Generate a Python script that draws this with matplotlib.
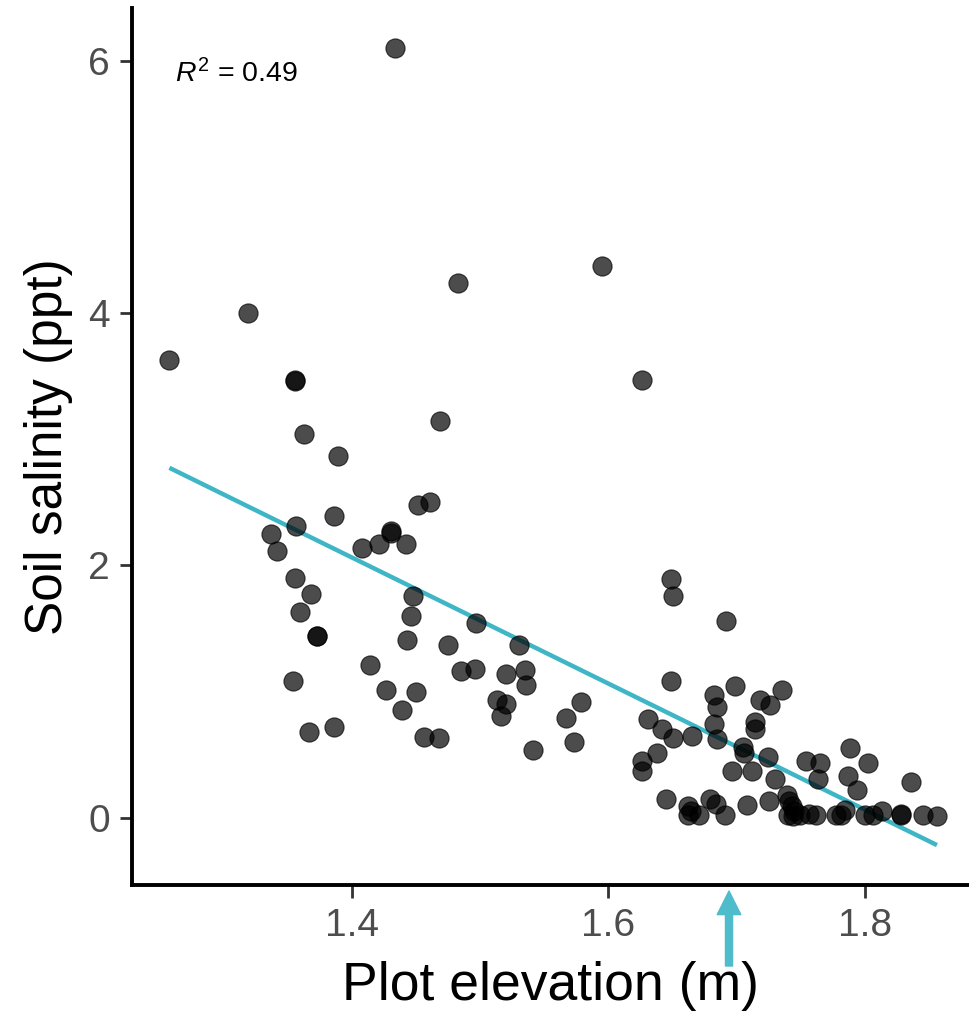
import matplotlib
matplotlib.use("Agg")
import matplotlib.pyplot as plt
import numpy as np

plt.rcParams['font.family'] = ['Liberation Sans', 'DejaVu Sans']
plt.rcParams['mathtext.fontset'] = 'custom'
plt.rcParams['mathtext.rm'] = 'Liberation Sans'
plt.rcParams['mathtext.it'] = 'Liberation Sans:italic'

# plot elevation (m) and soil salinity (ppt)
elevation = [
    1.258, 1.319, 1.434, 1.356, 1.356, 1.363, 1.389, 1.469, 1.452, 1.461,
    1.357, 1.337, 1.342, 1.386, 1.408, 1.421, 1.431, 1.431, 1.442, 1.448,
    1.446, 1.356, 1.368, 1.360, 1.373, 1.373, 1.443, 1.475, 1.497, 1.414,
    1.626, 1.649, 1.650, 1.530, 1.483, 1.595, 1.354, 1.367, 1.386, 1.427,
    1.450, 1.439, 1.456, 1.468, 1.485, 1.496, 1.520, 1.535, 1.536, 1.513,
    1.520, 1.516, 1.541, 1.567, 1.579, 1.573, 1.692, 1.649, 1.631, 1.642,
    1.650, 1.665, 1.626, 1.626, 1.638, 1.645, 1.662, 1.664, 1.662, 1.671,
    1.679, 1.684, 1.691, 1.682, 1.685, 1.682, 1.685, 1.699, 1.705, 1.706,
    1.696, 1.712, 1.714, 1.714, 1.718, 1.726, 1.735, 1.724, 1.730, 1.708,
    1.725, 1.739, 1.741, 1.740, 1.745, 1.749, 1.756, 1.762, 1.743, 1.754,
    1.765, 1.763, 1.777, 1.784, 1.788, 1.787, 1.794, 1.802, 1.800, 1.806,
    1.813, 1.828, 1.828, 1.836, 1.845, 1.856, 1.744, 1.781,
]
salinity = [
    3.63, 4.00, 6.10, 3.47, 3.46, 3.04, 2.87, 3.14, 2.48, 2.50,
    2.31, 2.25, 2.11, 2.39, 2.14, 2.17, 2.27, 2.26, 2.17, 1.76,
    1.60, 1.90, 1.77, 1.63, 1.44, 1.44, 1.41, 1.37, 1.54, 1.21,
    3.47, 1.89, 1.76, 1.37, 4.24, 4.37, 1.08, 0.68, 0.72, 1.01,
    1.00, 0.85, 0.64, 0.63, 1.16, 1.18, 1.14, 1.17, 1.05, 0.93,
    0.90, 0.81, 0.54, 0.79, 0.92, 0.60, 1.56, 1.08, 0.78, 0.70,
    0.63, 0.65, 0.45, 0.37, 0.51, 0.15, 0.09, 0.05, 0.02, 0.02,
    0.15, 0.11, 0.02, 0.97, 0.88, 0.74, 0.62, 1.04, 0.56, 0.51,
    0.37, 0.37, 0.76, 0.70, 0.93, 0.89, 1.01, 0.48, 0.31, 0.10,
    0.13, 0.18, 0.13, 0.02, 0.05, 0.02, 0.03, 0.02, 0.09, 0.45,
    0.43, 0.31, 0.02, 0.06, 0.55, 0.33, 0.22, 0.43, 0.02, 0.02,
    0.05, 0.03, 0.02, 0.28, 0.02, 0.01, 0.01, 0.02,
]

# linear fit shown on the chart
fit_slope = -5.0
fit_intercept = 9.063
r2_text = r'$R^2$ = 0.49'
marked_elevation = 1.694

x_ticks = [1.4, 1.6, 1.8]
y_ticks = [0, 2, 4, 6]

teal = '#3FB6C6'

fig = plt.figure(figsize=(9.7, 10.14), dpi=100)
ax = fig.add_axes([0.136, 0.1275, 0.863, 0.8645])

x = np.array(elevation)
line_x = np.array([x.min(), x.max()])
ax.plot(line_x, fit_intercept + fit_slope * line_x, color=teal, lw=3.2, zorder=2,
        solid_capstyle='butt')
ax.scatter(elevation, salinity, s=190, color='black', alpha=0.7,
           edgecolors='black', linewidths=0.8, zorder=3)

ax.text(1.2623, 5.83, r2_text, fontsize=20.5, ha='left', va='baseline')

ax.set_xlim(1.2288, 1.881)
ax.set_ylim(-0.531, 6.416)
ax.set_xticks(x_ticks)
ax.set_xticklabels([f'{v:.1f}' for v in x_ticks])
ax.set_yticks(y_ticks)

for side in ['top', 'right']:
    ax.spines[side].set_visible(False)
for side in ['left', 'bottom']:
    ax.spines[side].set_linewidth(2.8)
    ax.spines[side].set_color('black')

ax.tick_params(axis='both', length=9, width=2, color='#333333',
               labelsize=28, labelcolor='#4D4D4D')
ax.tick_params(axis='y', pad=7)
ax.tick_params(axis='x', pad=8)

ax.set_xlabel('Plot elevation (m)', fontsize=38.5, labelpad=12)
ax.set_ylabel('Soil salinity (ppt)', fontsize=37, labelpad=11)

# arrow under the x axis marking an elevation
ax.annotate('', xy=(marked_elevation, 123), xytext=(marked_elevation, 48),
            xycoords=('data', 'figure pixels'), textcoords=('data', 'figure pixels'),
            arrowprops=dict(arrowstyle='simple,head_length=1.0,head_width=1.0,tail_width=0.3',
                            color='#4FBCCB', shrinkA=0, shrinkB=0, mutation_scale=17),
            annotation_clip=False)

fig.savefig('out.png', dpi=100)
